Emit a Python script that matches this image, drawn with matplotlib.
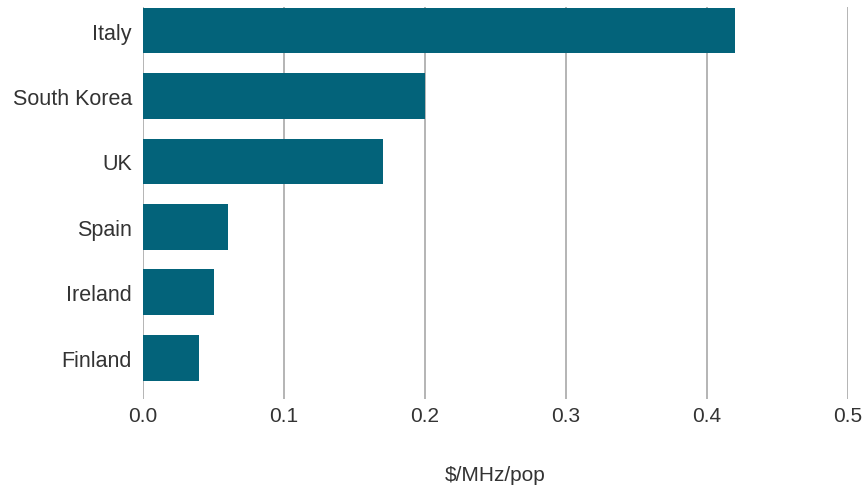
import matplotlib
matplotlib.use("Agg")
from matplotlib import pyplot as plt

countries = ["Italy", "South Korea", "UK", "Spain", "Ireland", "Finland"]
values = [0.42, 0.20, 0.17, 0.06, 0.05, 0.04]
xticks = [0.0, 0.1, 0.2, 0.3, 0.4, 0.5]

plt.rcParams['font.family'] = ['Liberation Sans', 'DejaVu Sans']

fig = plt.figure(figsize=(8.63, 4.89), dpi=100)
ax = fig.add_axes([143 / 863, 1 - 400 / 489, (848 - 143) / 863, (400 - 8) / 489])

pos = list(range(len(countries)))
ax.barh(pos, values, height=0.7, color="#03637A", zorder=3)

ax.set_xlim(0, 0.5)
ax.set_ylim(5.63, -0.36)
ax.set_yticks(pos)
ax.set_yticklabels(countries, fontsize=15.5, color="#333333")
ax.set_xticks(xticks)
ax.set_xticklabels([f"{t:.1f}" for t in xticks], fontsize=15, color="#333333")
ax.tick_params(axis="y", length=0, pad=8)
ax.tick_params(axis="x", length=0, pad=5)

# vertical grid lines incl. the zero line
for t in xticks:
    ax.axvline(t, color="#a8a8a8", lw=1.2, zorder=1)
for s in ax.spines.values():
    s.set_visible(False)

ax.set_xlabel("\\$/MHz/pop", fontsize=15, color="#333333", labelpad=29)

fig.savefig("out.png", dpi=100)
